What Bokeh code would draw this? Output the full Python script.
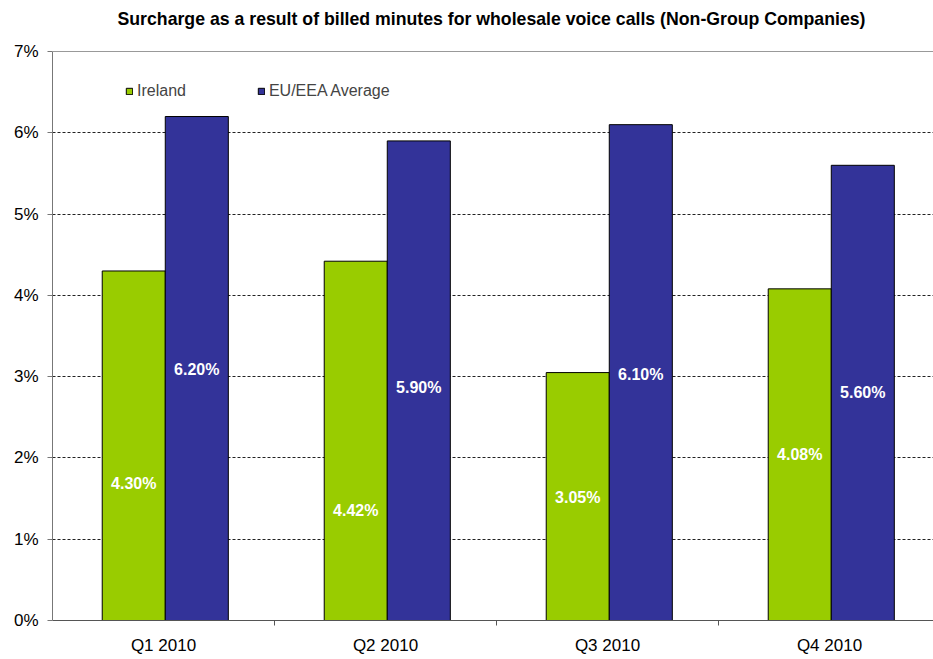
from bokeh.plotting import figure
from bokeh.models import (ColumnDataSource, FixedTicker, Legend, LegendItem, Range1d, Label, Span)
from bokeh.core.properties import value
from bokeh.embed import file_html
from bokeh.resources import INLINE

# ---- data ----
title_text = "Surcharge as a result of billed minutes for wholesale voice calls (Non-Group Companies)"
quarters = ["Q1 2010", "Q2 2010", "Q3 2010", "Q4 2010"]
ireland = [4.30, 4.42, 3.05, 4.08]
eu_avg = [6.20, 5.90, 6.10, 5.60]
ireland_label_pos = [1.69, 1.35, 1.51, 2.04]
eu_label_pos = [3.09, 2.87, 3.03, 2.80]
y_ticks = [0, 1, 2, 3, 4, 5, 6, 7]
y_max = 7

GREEN = "#99CC00"
BLUE = "#333399"
FONT = "Liberation Sans"

centers = [i + 0.5 for i in range(len(quarters))]
bw = 0.284
src = ColumnDataSource(dict(
    x_ie=[c - bw / 2 + 0.008 for c in centers],
    x_eu=[c + bw / 2 + 0.008 for c in centers],
    ie=ireland, eu=eu_avg,
    ie_lab=["%.2f%%" % v for v in ireland],
    eu_lab=["%.2f%%" % v for v in eu_avg],
    ie_pos=ireland_label_pos, eu_pos=eu_label_pos,
))

# frame spans the whole height above the x axis; the 0..7 scale occupies the lower 569 px
FRAME_H = 620
top = y_max * FRAME_H / 569.0
p = figure(width=933, height=659, output_backend="svg", toolbar_location=None,
           x_range=Range1d(0, 881 / 222), y_range=Range1d(0, top),
           min_border_left=52, min_border_right=0, min_border_top=0,
           min_border_bottom=39)
p.background_fill_color = "white"
p.border_fill_color = "white"
p.outline_line_color = None

p.add_layout(Span(location=y_max, dimension="width", line_color="#999999", line_width=1))

p.add_layout(Label(x=439, y=FRAME_H - 18, x_units="screen", y_units="screen",
                   text=title_text, text_align="center", text_baseline="middle",
                   text_font=FONT, text_font_size="17.7px", text_font_style="bold",
                   text_color="black"))

r_ie = p.vbar(x="x_ie", top="ie", bottom=0, width=bw, source=src,
              fill_color=GREEN, line_color="black", line_width=1)
r_eu = p.vbar(x="x_eu", top="eu", bottom=0, width=bw, source=src,
              fill_color=BLUE, line_color="black", line_width=1)

p.text(x="x_ie", y="ie_pos", text="ie_lab", source=src, text_color="white",
       text_font=value(FONT), text_font_size="16px", text_font_style="bold",
       text_align="center", text_baseline="middle")
p.text(x="x_eu", y="eu_pos", text="eu_lab", source=src, text_color="white",
       text_font=value(FONT), text_font_size="16px", text_font_style="bold",
       text_align="center", text_baseline="middle")

# grid
p.xgrid.grid_line_color = None
p.ygrid.ticker = FixedTicker(ticks=[1, 2, 3, 4, 5, 6])
p.ygrid.grid_line_color = "#222222"
p.ygrid.grid_line_dash = "3 2"
p.ygrid.grid_line_width = 1

# y axis
p.yaxis.ticker = FixedTicker(ticks=y_ticks)
p.yaxis.bounds = (0, y_max)
p.yaxis.major_label_overrides = {t: "%d%%" % t for t in y_ticks}
p.yaxis.axis_line_color = "#777777"
p.yaxis.major_tick_line_color = "#777777"
p.yaxis.major_tick_out = 5
p.yaxis.major_tick_in = 0
p.yaxis.minor_tick_line_color = None
p.yaxis.major_label_text_font = FONT
p.yaxis.major_label_text_font_size = "17px"
p.yaxis.major_label_text_color = "black"
p.yaxis.major_label_standoff = 9

# x axis
p.xaxis.ticker = FixedTicker(ticks=centers, minor_ticks=[1, 2, 3])
p.xaxis.major_label_overrides = {c: q for c, q in zip(centers, quarters)}
p.xaxis.axis_line_color = "#555555"
p.xaxis.major_tick_line_color = None
p.xaxis.minor_tick_line_color = "#555555"
p.xaxis.minor_tick_out = 5
p.xaxis.minor_tick_in = 0
p.xaxis.major_label_text_font = FONT
p.xaxis.major_label_text_font_size = "17px"
p.xaxis.major_label_text_color = "black"
p.xaxis.major_label_standoff = 9

legend = Legend(items=[LegendItem(label="Ireland", renderers=[r_ie]),
                       LegendItem(label="EU/EEA Average", renderers=[r_eu])],
                orientation="horizontal", location=(73, 520),
                glyph_width=8, glyph_height=8, label_standoff=4, spacing=71,
                label_text_font=FONT, label_text_font_size="16px",
                border_line_color=None, background_fill_alpha=0)
p.add_layout(legend)

open("out.html", "w").write(file_html(p, INLINE))
